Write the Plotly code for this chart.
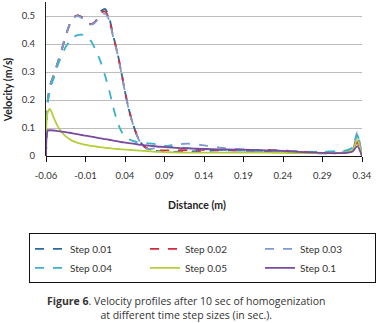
import plotly.graph_objects as go

distance = [-0.06, -0.058, -0.055, -0.05, -0.045, -0.04, -0.035, -0.03, -0.025, -0.02,
            -0.015, -0.01, -0.005, 0.0, 0.005, 0.01, 0.015, 0.02, 0.025, 0.03,
            0.035, 0.04, 0.045, 0.05, 0.055, 0.06, 0.065, 0.07, 0.08, 0.09,
            0.1, 0.12, 0.14, 0.16, 0.18, 0.2, 0.22, 0.24, 0.26, 0.28,
            0.3, 0.31, 0.32, 0.328, 0.334, 0.34]

step_001 = [0, 0.19, 0.25, 0.29, 0.335, 0.38, 0.43, 0.47, 0.495, 0.502,
            0.496, 0.482, 0.472, 0.474, 0.49, 0.518, 0.525, 0.495, 0.43, 0.375,
            0.305, 0.23, 0.165, 0.115, 0.075, 0.048, 0.032, 0.024, 0.018, 0.016,
            0.015, 0.016, 0.018, 0.02, 0.02, 0.018, 0.016, 0.014, 0.012, 0.01,
            0.01, 0.011, 0.013, 0.02, 0.07, 0]

step_002 = [0, 0.19, 0.25, 0.29, 0.335, 0.38, 0.43, 0.47, 0.495, 0.502,
            0.496, 0.482, 0.472, 0.474, 0.488, 0.512, 0.516, 0.49, 0.428, 0.373,
            0.305, 0.23, 0.165, 0.115, 0.075, 0.048, 0.032, 0.025, 0.02, 0.02,
            0.02, 0.021, 0.022, 0.021, 0.02, 0.022, 0.022, 0.02, 0.016, 0.012,
            0.011, 0.011, 0.013, 0.02, 0.05, 0]

step_003 = [0, 0.19, 0.25, 0.29, 0.335, 0.38, 0.43, 0.47, 0.494, 0.5,
            0.494, 0.48, 0.47, 0.472, 0.486, 0.505, 0.508, 0.485, 0.425, 0.37,
            0.302, 0.228, 0.163, 0.113, 0.073, 0.046, 0.03, 0.025, 0.028, 0.034,
            0.04, 0.044, 0.038, 0.03, 0.025, 0.022, 0.02, 0.019, 0.017, 0.015,
            0.015, 0.016, 0.018, 0.03, 0.085, 0]

step_004 = [0, 0.18, 0.24, 0.28, 0.325, 0.36, 0.39, 0.41, 0.425, 0.432,
            0.433, 0.43, 0.418, 0.395, 0.365, 0.33, 0.285, 0.235, 0.175, 0.125,
            0.09, 0.07, 0.06, 0.054, 0.05, 0.048, 0.046, 0.045, 0.042, 0.037,
            0.033, 0.028, 0.025, 0.022, 0.02, 0.018, 0.017, 0.016, 0.015, 0.015,
            0.016, 0.017, 0.02, 0.03, 0.075, 0]

step_005 = [0.08, 0.155, 0.168, 0.135, 0.105, 0.085, 0.07, 0.06, 0.052, 0.047,
            0.043, 0.04, 0.037, 0.035, 0.033, 0.031, 0.029, 0.028, 0.026, 0.025,
            0.024, 0.023, 0.022, 0.021, 0.02, 0.019, 0.018, 0.017, 0.015, 0.014,
            0.013, 0.012, 0.012, 0.012, 0.012, 0.012, 0.012, 0.011, 0.01, 0.01,
            0.01, 0.011, 0.013, 0.02, 0.058, 0]

step_01 = [0, 0.09, 0.092, 0.091, 0.089, 0.087, 0.085, 0.083, 0.08, 0.078,
           0.075, 0.073, 0.07, 0.068, 0.065, 0.063, 0.06, 0.058, 0.055, 0.053,
           0.05, 0.048, 0.046, 0.044, 0.042, 0.04, 0.038, 0.037, 0.034, 0.032,
           0.03, 0.027, 0.025, 0.024, 0.023, 0.022, 0.02, 0.018, 0.015, 0.012,
           0.01, 0.01, 0.011, 0.016, 0.035, 0]

series_names = ["Step 0.01", "Step 0.02", "Step 0.03", "Step 0.04", "Step 0.05", "Step 0.1"]
series_values = [step_001, step_002, step_003, step_004, step_005, step_01]
series_colors = ["#2b6a9c", "#d8283c", "#7d9bd0", "#38b2cb", "#b5cf3b", "#7a4a9e"]
series_dash = ["dash", "dash", "dash", "dash", "solid", "solid"]

x_ticks = [-0.06, -0.01, 0.04, 0.09, 0.14, 0.19, 0.24, 0.29, 0.34]
x_tick_labels = ["-0.06", "-0.01", "0.04", "0.09", "0.14", "0.19", "0.24", "0.29", "0.34"]
y_ticks = [0, 0.1, 0.2, 0.3, 0.4, 0.5]
y_tick_labels = ["0", "0.1", "0.2", "0.3", "0.4", "0.5"]

FONT = "Lato"

fig = go.Figure()
for i in range(len(series_names)):
    fig.add_trace(go.Scatter(
        x=distance, y=series_values[i], name=series_names[i], mode="lines",
        line=dict(color=series_colors[i], width=1.8, dash=series_dash[i],
                  shape="spline", smoothing=0.6),
    ))

fig.update_layout(
    width=376, height=323,
    margin=dict(l=46, r=14, t=2, b=167),
    paper_bgcolor="white", plot_bgcolor="white",
    font=dict(family=FONT, size=10, color="#333333"),
    showlegend=True,
    legend=dict(
        orientation="h", x=-0.003, xanchor="left", y=-0.503, yanchor="top",
        bordercolor="#111111", borderwidth=1, font=dict(size=10, color="#333333"),
        entrywidth=70, entrywidthmode="pixels", traceorder="normal",
        itemwidth=30, tracegroupgap=0,
    ),
    xaxis=dict(
        range=[-0.06, 0.34], tickvals=x_ticks, ticktext=x_tick_labels,
        showgrid=False, zeroline=False, showline=False,
        ticks="outside", ticklen=5, tickcolor="#111111", tickwidth=1,
        ticklabelstandoff=6, tickfont=dict(size=9.5, color="#333333"),
    ),
    yaxis=dict(
        range=[0, 0.55], tickvals=y_ticks, ticktext=y_tick_labels,
        showgrid=True, gridcolor="#bdbdbd", gridwidth=1,
        zeroline=True, zerolinecolor="#111111", zerolinewidth=1,
        showline=True, linecolor="#222222", linewidth=1,
        ticks="", ticklabelstandoff=8, tickfont=dict(size=9.5, color="#333333"),
    ),
    annotations=[
        dict(text="<b>Distance (m)</b>", x=0.478, y=-0.321, xref="paper", yref="paper",
             showarrow=False, xanchor="center", yanchor="middle",
             font=dict(size=10.5, color="#222222")),
        dict(text="<b>Velocity (m/s)</b>", x=-0.12, y=0.427, xref="paper", yref="paper",
             showarrow=False, xanchor="center", yanchor="middle", textangle=-90,
             font=dict(size=10.5, color="#222222")),
        dict(text="<b>Figure 6</b>. Velocity profiles after 10 sec of homogenization<br>at different time step sizes (in sec.).",
             x=0.443, y=-0.984, xref="paper", yref="paper", showarrow=False,
             xanchor="center", yanchor="middle", align="center",
             font=dict(family="Open Sans", size=10.5, color="#333333")),
    ],
)

fig.write_html("out.html", config={"displayModeBar": False},
               post_script="document.body.style.margin='0';document.body.style.overflow='hidden';")
